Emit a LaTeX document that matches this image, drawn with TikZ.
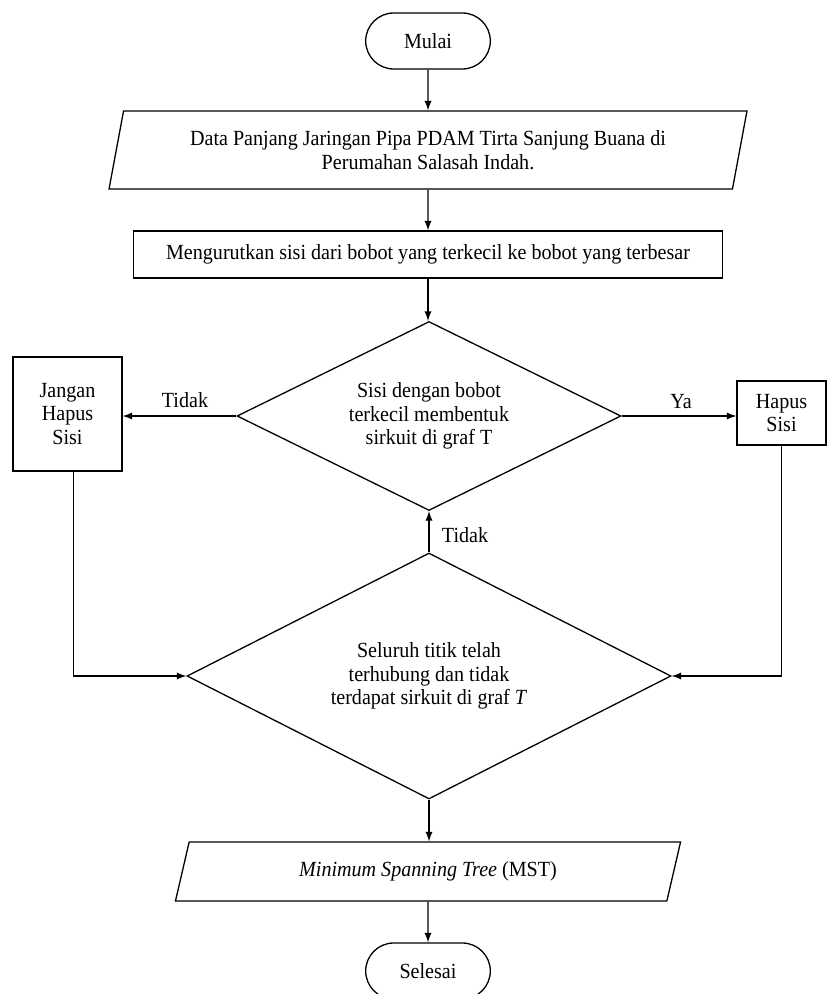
\documentclass[tikz,border=0pt]{standalone}
\usepackage{fontspec}
\setmainfont[FakeStretch=0.93]{Liberation Serif}
\usepackage{tikz}
\usetikzlibrary{shapes.geometric,shapes.misc}
\def\termnode{\node[rounded rectangle,draw=black,line width=0.65pt,minimum width=68pt,minimum height=28pt]}
\def\ionode{\node[trapezium,draw=black,line width=0.65pt,trapezium stretches=true,align=center]}
\def\procnode{\node[rectangle,draw=black,line width=0.65pt,align=center]}
\def\decnode{\node[diamond,draw=black,line width=0.65pt,inner sep=0pt,shape aspect=2,align=center]}
\def\drawflow{\draw[->,>=latex,line width=0.65pt]}

\begin{document}
\begin{tikzpicture}[x=0.5pt,y=-0.5pt,auto,inner sep=1mm,font=\fontsize{10.8}{11.8}\selectfont]
\useasboundingbox (0,0) rectangle (828,994);

% -------- main column ---------
\termnode (mulai) at (428,41) {Mulai};
\ionode[trapezium left angle=77,trapezium right angle=103,minimum width=320pt,minimum height=39pt] (data) at (428,150)
  {Data Panjang Jaringan Pipa PDAM Tirta Sanjung Buana di\\Perumahan Salasah Indah.};
\procnode[minimum width=294.5pt,minimum height=23.5pt] (urut) at (428,254.5)
  {Mengurutkan sisi dari bobot yang terkecil ke bobot yang terbesar};
\decnode[minimum width=192pt,minimum height=94.5pt] (sirkuit) at (429,416)
  {Sisi dengan bobot\\terkecil membentuk\\sirkuit di graf T};
\decnode[minimum width=242pt,minimum height=123pt] (cek) at (429,676)
  {Seluruh titik telah\\terhubung dan tidak\\terdapat sirkuit di graf \textit{T}};
\ionode[trapezium left angle=76,trapezium right angle=104,minimum width=253pt,minimum height=29.5pt] (mst) at (428,871.5)
  {\textit{Minimum Spanning Tree} (MST)};
\termnode (selesai) at (428,971) {Selesai};

% -------- side boxes ---------
\procnode[minimum width=54.5pt,minimum height=57pt] (jangan) at (67.5,414) {Jangan\\Hapus\\Sisi};
\procnode[minimum width=44.5pt,minimum height=32pt] (hapus) at (781.5,413) {Hapus\\Sisi};

% labels on the branches
\node (tidakL) at (185,400) {Tidak};
\node (ya) at (681,402) {Ya};
\node (tidakB) at (465,535) {Tidak};

% Now the connectors
\drawflow (mulai) -- (data);
\drawflow (data) -- (urut);
\drawflow (urut.south) -- (urut.south |- sirkuit.north);
\drawflow (sirkuit.west) -- (jangan.east |- sirkuit.west);
\drawflow (sirkuit.east) -- (hapus.west |- sirkuit.east);
\drawflow ([xshift=3pt]jangan.south) |- (cek.west);
\drawflow (hapus.south) |- (cek.east);
\drawflow (cek.north) -- (sirkuit.south);
\drawflow (cek.south) -- (cek.south |- mst.north);
\drawflow (mst) -- (selesai);
\end{tikzpicture}
\end{document}
